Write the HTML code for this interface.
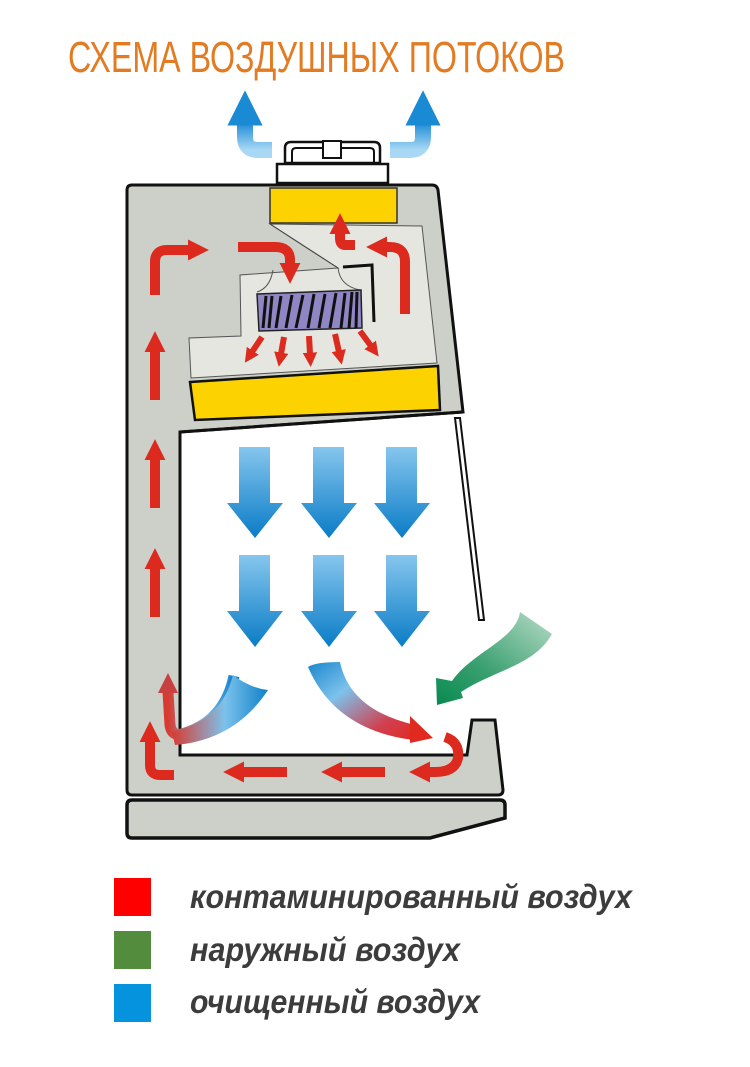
<!DOCTYPE html>
<html><head><meta charset="utf-8"><style>
html,body{margin:0;padding:0;background:#fff;}
svg{display:block;}
</style></head><body>
<svg width="750" height="1067" viewBox="0 0 750 1067" xmlns="http://www.w3.org/2000/svg">
<defs>
<linearGradient id="bd" x1="0" y1="0" x2="0" y2="1"><stop offset="0" stop-color="#86c6ee"/><stop offset="1" stop-color="#0a7cc6"/></linearGradient>
<linearGradient id="bu" x1="0" y1="1" x2="0" y2="0"><stop offset="0" stop-color="#a8d8f4"/><stop offset="1" stop-color="#1a8ad4"/></linearGradient>
<linearGradient id="gr" x1="1" y1="0" x2="0" y2="1"><stop offset="0" stop-color="#b8dcc8"/><stop offset="0.6" stop-color="#3aa070"/><stop offset="1" stop-color="#088a50"/></linearGradient>
<linearGradient id="rb1" x1="0" y1="0" x2="1" y2="0"><stop offset="0" stop-color="#d83a30"/><stop offset="0.55" stop-color="#7cc2ec"/><stop offset="1" stop-color="#1080c8"/></linearGradient>
<linearGradient id="rb2" x1="0" y1="0" x2="1" y2="1"><stop offset="0" stop-color="#1c86cc"/><stop offset="0.35" stop-color="#7cc2ec"/><stop offset="0.75" stop-color="#d04050"/><stop offset="1" stop-color="#e02a20"/></linearGradient>
<marker id="ah" viewBox="0 0 10 10" refX="1" refY="5" markerWidth="2.1" markerHeight="2.1" orient="auto"><path d="M0,0 L10,5 L0,10 z" fill="#dc2a1f"/></marker>
<marker id="ahs" viewBox="0 0 10 10" refX="1" refY="5" markerWidth="2.4" markerHeight="2.6" orient="auto"><path d="M0,0 L10,5 L0,10 z" fill="#dc2a1f"/></marker>
<marker id="ahb" viewBox="0 0 10 10" refX="1" refY="5" markerWidth="2.2" markerHeight="2.2" orient="auto"><path d="M0,0 L10,5 L0,10 z" fill="#1a8ad4"/></marker>
</defs>

<text x="68" y="72" fill="#e27b22" font-family="Liberation Sans Narrow, Liberation Sans, sans-serif" font-size="44" textLength="497" lengthAdjust="spacingAndGlyphs">СХЕМА ВОЗДУШНЫХ ПОТОКОВ</text>

<!-- exhaust blue arrows -->
<path d="M272,150 L258,150 Q245,150 245,137 L245,122" fill="none" stroke="url(#bu)" stroke-width="16" marker-end="url(#ahb)"/>
<path d="M390,150 L410,150 Q423,150 423,137 L423,122" fill="none" stroke="url(#bu)" stroke-width="16" marker-end="url(#ahb)"/>

<!-- fan top -->
<path d="M285,163 L285,148 Q285,142 291,142 L374,142 Q380,142 380,148 L380,163 Z" fill="#fff" stroke="#111" stroke-width="2.5"/>
<path d="M292,163 L292,152 Q292,148 296,148 L370,148 Q374,148 374,152 L374,163" fill="none" stroke="#111" stroke-width="2"/>
<rect x="323" y="141" width="18" height="17" fill="#fff" stroke="#111" stroke-width="2"/>
<rect x="277" y="164" width="111" height="19" fill="#fff" stroke="#111" stroke-width="2.5"/>

<!-- body -->
<path d="M127,190 Q127,185 132,185 L432,185 Q437,185 438,190 L463,412 L180,432 L180,755 L467,755 L472,720 L495,720 L503,790 Q503,795 498,795 L132,795 Q127,795 127,790 Z" fill="#cdd0c8" stroke="#111" stroke-width="3"/>
<!-- base -->
<path d="M132,800 L500,800 Q505,800 505,805 L505,818 L430,838 L132,838 Q127,838 127,833 L127,805 Q127,800 132,800 Z" fill="#cdd0c8" stroke="#111" stroke-width="3.5"/>

<!-- plenum light area -->
<path d="M270,224 L422,226 L437,363 L191,378 L189,338 L241,336 L240,275 L338,268 Z" fill="#e4e6df" stroke="#555" stroke-width="1"/>
<path d="M270,224 L338,268" stroke="#444" stroke-width="1"/>
<path d="M343,267 L372,265 L374,322" fill="none" stroke="#111" stroke-width="3"/>
<path d="M273,270 Q270,288 257,292 M338,268 Q340,286 360,290" fill="none" stroke="#555" stroke-width="1"/>

<!-- filters -->
<rect x="270" y="188" width="127" height="35" fill="#fcd200" stroke="#333" stroke-width="1.5"/>
<path d="M190,382 L438,366 L440,410 L195,420 Z" fill="#fcd200" stroke="#111" stroke-width="2.5"/>

<!-- fan blower -->
<path d="M257,294 L361,290 L362,328 L259,331 Z" fill="#8f86c4" stroke="#222" stroke-width="1.5"/>
<g stroke="#111" stroke-width="3">
<line x1="266" y1="296" x2="263" y2="328"/><line x1="272" y1="296" x2="269" y2="328"/><line x1="281" y1="296" x2="276" y2="328"/><line x1="292" y1="295" x2="286" y2="328"/><line x1="303" y1="295" x2="296" y2="328"/><line x1="314" y1="294" x2="308" y2="328"/><line x1="325" y1="294" x2="319" y2="328"/><line x1="336" y1="293" x2="330" y2="328"/><line x1="345" y1="293" x2="341" y2="328"/><line x1="352" y1="292" x2="349" y2="328"/><line x1="357" y1="292" x2="356" y2="328"/>
</g>

<!-- white window -->
<path d="M180,432 L463,412" stroke="#111" stroke-width="3"/>
<!-- glass pane -->
<path d="M455,418 L460,418 L484,620 L479,620 Z" fill="#fff" stroke="#111" stroke-width="2"/>

<!-- blue down arrows -->
<g fill="url(#bd)">
<path d="M239,447 L270,447 L270,503 L283,503 L255,538 L227,503 L239,503 Z"/>
<path d="M313,447 L344,447 L344,503 L357,503 L329,538 L301,503 L313,503 Z"/>
<path d="M386,447 L417,447 L417,503 L430,503 L402,538 L374,503 L386,503 Z"/>
<path d="M239,555 L270,555 L270,611 L283,611 L255,647 L227,611 L239,611 Z"/>
<path d="M313,555 L344,555 L344,611 L357,611 L329,647 L301,611 L313,611 Z"/>
<path d="M386,555 L417,555 L417,611 L430,611 L402,647 L374,611 L386,611 Z"/>
</g>

<!-- red arrows -->
<g fill="none" stroke="#dc2a1f" stroke-width="10">
<path d="M155,295 L155,262 Q155,250 167,250 L190,250" marker-end="url(#ah)"/>
<path d="M238,247 L275,247 Q290,247 290,260 L290,265" marker-end="url(#ah)"/>
<path d="M405,314 L405,262 Q405,247 390,247 L385,247" marker-end="url(#ah)"/>
<path d="M355,245 L345,245 Q340,245 340,238 L340,232" marker-end="url(#ah)"/>
<path d="M155,400 L155,350" marker-end="url(#ah)"/>
<path d="M155,508 L155,458" marker-end="url(#ah)"/>
<path d="M155,617 L155,567" marker-end="url(#ah)"/>
<path d="M174,775 L160,775 Q150,775 150,765 L150,740" marker-end="url(#ah)"/>
<path d="M287,772 L242,772" marker-end="url(#ah)"/>
<path d="M385,772 L340,772" marker-end="url(#ah)"/>
<path d="M445,737 Q460,742 458,758 Q455,772 435,772 L428,772" marker-end="url(#ah)"/>
</g>
<g fill="none" stroke="#dc2a1f" stroke-width="6">
<path d="M262,337 L252,352" marker-end="url(#ahs)"/>
<path d="M284,337 L281,354" marker-end="url(#ahs)"/>
<path d="M309,336 L310,354" marker-end="url(#ahs)"/>
<path d="M335,334 L339,352" marker-end="url(#ahs)"/>
<path d="M360,331 L371,346" marker-end="url(#ahs)"/>
</g>

<!-- gradient curved arrows -->
<path d="M234,676 Q225,720 185,733 Q172,738 170,725 L168,692" fill="none" stroke="url(#rb1)" stroke-width="11"/>
<path d="M233,675 Q250,688 268,690 Q235,740 175,745 L172,732 Q222,720 233,675 Z" fill="url(#rb1)"/>
<polygon points="168,673 178,693 158,693" fill="#c84040"/>
<path d="M308,667 Q315,662 340,662 Q350,710 415,725 L413,740 Q335,730 308,667 Z" fill="url(#rb2)"/>
<polygon points="410,716 433,738 410,743" fill="#e02a20"/>

<!-- green arrow -->
<path d="M520,612 C516,640 472,652 452,681 L436,678 L437,705 L463,698 L461,692 C494,670 534,666 552,634 Z" fill="url(#gr)"/>

<!-- legend -->
<rect x="114" y="878" width="37" height="38" fill="#fe0000"/>
<rect x="114" y="931" width="37" height="38" fill="#528c3c"/>
<rect x="114" y="984" width="37" height="38" fill="#0593dd"/>
<g fill="#3c3c3c" font-family="Liberation Sans Narrow, Liberation Sans, sans-serif" font-style="italic" font-weight="bold" font-size="33">
<text x="190" y="908" textLength="442" lengthAdjust="spacingAndGlyphs">контаминированный воздух</text>
<text x="190" y="961" textLength="270" lengthAdjust="spacingAndGlyphs">наружный воздух</text>
<text x="190" y="1013" textLength="290" lengthAdjust="spacingAndGlyphs">очищенный воздух</text>
</g>
</svg>
</body></html>
